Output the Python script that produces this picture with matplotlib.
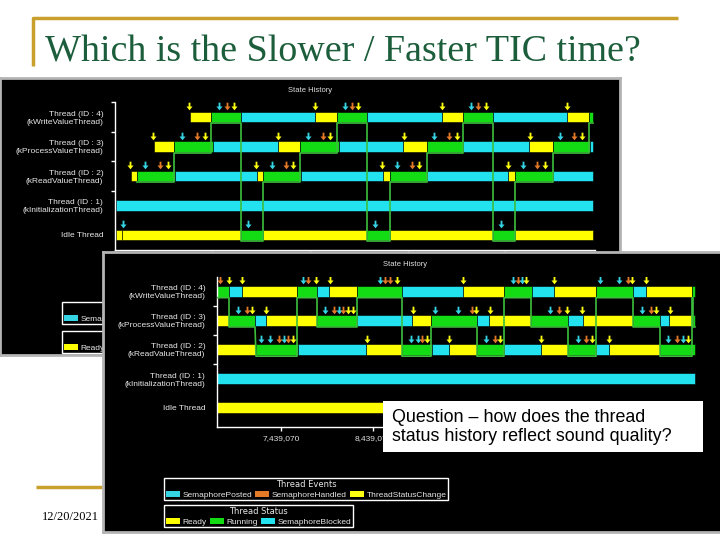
import matplotlib
matplotlib.use("Agg")
import matplotlib.pyplot as plt
import matplotlib.patches as mpatches
from matplotlib.path import Path

W, H = 720, 540

row_labels = [
    "Thread (ID : 4)\n(kWriteValueThread)",
    "Thread (ID : 3)\n(kProcessValueThread)",
    "Thread (ID : 2)\n(kReadValueThread)",
    "Thread (ID : 1)\n(kInitializationThread)",
    "Idle Thread",
]

# status per segment: R = Ready, U = Running, B = SemaphoreBlocked
# back screenshot (slower TIC)
back_t4_edges = [190, 211, 241, 315, 337, 367, 442, 463, 493, 567, 589, 593]
back_t4_states = "RUBRUBRUBRU"
back_t3_edges = [154, 174, 213, 278, 300, 339, 403, 427, 463, 529, 553, 590, 593]
back_t3_states = "RUBRUBRUBRUB"
back_t2_edges = [131, 137, 175, 257, 263, 301, 383, 390, 427, 508, 515, 553, 593]
back_t2_states = "RUBRUBRUBRUB"
back_t1_edges = [116, 593]
back_t1_states = "B"
back_idle_edges = [116, 122.5, 241, 263, 367, 390, 493, 515, 593]
back_idle_states = "RRURURUR"

# events: c = SemaphorePosted, o = SemaphoreHandled, y = ThreadStatusChange
back_t4_events = [(189, 'y'), (219, 'c'), (227, 'o'), (234, 'y'), (315, 'y'), (345, 'c'),
                  (352, 'o'), (358, 'y'), (442, 'y'), (471, 'c'), (478, 'o'), (486, 'y'), (567, 'y')]
back_t3_events = [(153, 'y'), (182, 'c'), (197, 'o'), (205, 'y'), (278, 'y'), (308, 'c'),
                  (323, 'o'), (330, 'y'), (404, 'y'), (434, 'c'), (449, 'o'), (457, 'y'),
                  (530, 'y'), (560, 'c'), (574, 'o'), (582, 'y')]
back_t2_events = [(130, 'y'), (145, 'c'), (160, 'o'), (168, 'y'), (256, 'y'), (272, 'c'),
                  (286, 'o'), (293, 'y'), (382, 'y'), (397, 'c'), (412, 'o'), (419, 'y'),
                  (508, 'y'), (523, 'c'), (537, 'o'), (545, 'y')]
back_idle_events = [(123, 'c'), (248, 'c'), (375, 'c'), (501, 'c')]
back_xticks = [115, 212, 310, 408, 505]

# front screenshot (faster TIC)
front_t4_edges = [217, 229, 242, 297, 317, 329, 357, 402, 463, 504, 532, 554, 596, 633, 646, 692, 695]
front_t4_states = "UBRUBRUBRUBRUBRU"
front_t3_edges = [217, 229, 255, 266, 317, 357, 412, 431, 477, 489, 531, 568, 583, 633, 660, 669, 693, 695]
front_t3_states = "RUBRUBRUBRUBRUBRU"
front_t2_edges = [217, 256, 298, 366, 402, 432, 449, 477, 504, 541, 568, 596, 609, 660, 695]
front_t2_states = "RUBRUBRUBRUBRU"
front_t1_edges = [217, 695]
front_t1_states = "B"
front_idle_edges = [217, 695]
front_idle_states = "R"

front_t4_events = [(220, 'o'), (229, 'y'), (242, 'y'), (303, 'c'), (308, 'o'), (316, 'y'),
                   (330, 'y'), (380, 'c'), (385, 'o'), (390, 'o'), (397, 'y'), (463, 'y'),
                   (513, 'c'), (518, 'o'), (522, 'c'), (526, 'y'), (554, 'y'), (600, 'c'),
                   (619, 'c'), (628, 'o'), (632, 'y'), (646, 'y')]
front_t3_events = [(238, 'c'), (247, 'o'), (252, 'y'), (266, 'y'), (325, 'c'), (334, 'o'),
                   (339, 'c'), (343, 'o'), (348, 'y'), (353, 'y'), (413, 'y'), (435, 'c'),
                   (458, 'c'), (472, 'o'), (476, 'y'), (490, 'y'), (550, 'c'), (559, 'o'),
                   (567, 'y'), (582, 'y'), (642, 'c'), (651, 'o'), (656, 'y'), (670, 'y')]
front_t2_events = [(261, 'c'), (270, 'c'), (279, 'o'), (284, 'c'), (288, 'o'), (293, 'y'),
                   (367, 'y'), (411, 'c'), (418, 'c'), (422, 'o'), (427, 'y'), (449, 'y'),
                   (486, 'c'), (495, 'o'), (500, 'y'), (541, 'y'), (578, 'c'), (586, 'o'),
                   (592, 'y'), (609, 'y'), (668, 'c'), (677, 'o'), (683, 'c'), (688, 'y')]
front_xticks = [281, 373]
front_xticklabels = ["7,439,070", "8,439,070"]

status_colors = {'R': '#ffff00', 'U': '#14dc14', 'B': '#22e2f0'}
status_names = {'R': 'Ready', 'U': 'Running', 'B': 'SemaphoreBlocked'}
event_colors = {'c': '#34d4e4', 'o': '#e47a28', 'y': '#ffff10'}
event_names = {'c': 'SemaphorePosted', 'o': 'SemaphoreHandled', 'y': 'ThreadStatusChange'}
path_color = '#3cc03c'
chart_font = 'Liberation Sans'

arrow_marker = Path([(-0.12, 0.5), (0.12, 0.5), (0.12, 0.0), (0.4, 0.0), (0.0, -0.5),
                     (-0.4, 0.0), (-0.12, 0.0), (-0.12, 0.5)],
                    [Path.MOVETO] + [Path.LINETO] * 6 + [Path.CLOSEPOLY])


def px_rect(x0, y0, x1, y1):
    return [x0 / W, 1 - y1 / H, (x1 - x0) / W, (y1 - y0) / H]


def panel(rect, title_x, title_y):
    p = fig.add_axes(px_rect(*rect))
    p.set_facecolor('black')
    p.set_xticks([])
    p.set_yticks([])
    for s in p.spines.values():
        s.set_color('#b4b4b4')
        s.set_linewidth(2)
    x0, y0, x1, y1 = rect
    p.text((title_x - x0) / (x1 - x0), 1 - (title_y - y0) / (y1 - y0), "State History",
           transform=p.transAxes, ha='center', va='center', color='#e0e0e0',
           fontsize=5.5, family=chart_font)
    return p


def history(ax, edges_list, states_list, events_list, bar_h):
    for row, (edges, states) in enumerate(zip(edges_list, states_list)):
        for st in 'RUB':
            spans = [(a, b - a) for a, b, s in zip(edges[:-1], edges[1:], states) if s == st]
            if spans:
                ax.broken_barh(spans, (row - bar_h / 2, bar_h), facecolors=status_colors[st],
                               edgecolor='black', linewidth=0.4, zorder=2)
    # running path along the bottom of whichever row is running
    runs = sorted((a, b, row) for row, (edges, states) in enumerate(zip(edges_list, states_list))
                  for a, b, s in zip(edges[:-1], edges[1:], states) if s == 'U')
    xs, ys = [], []
    for i, (a, b, row) in enumerate(runs):
        if i + 1 < len(runs):
            b = min(b, runs[i + 1][0])
        y = row + bar_h / 2 + 0.04
        xs += [a, b]
        ys += [y, y]
    ax.plot(xs, ys, color=path_color, lw=1.2, zorder=3)
    for row, events in enumerate(events_list):
        for x, k in events:
            ax.plot([x], [row - 0.36], ls='none', marker=arrow_marker, ms=5.5,
                    color=event_colors[k], mec='none', zorder=4)

    ax.set_facecolor('none')
    for side in ['top', 'right']:
        ax.spines[side].set_visible(False)
    for side in ['left', 'bottom']:
        ax.spines[side].set_color('white')
        ax.spines[side].set_linewidth(1)
    ax.set_yticks(range(len(row_labels)))
    ax.set_yticklabels(row_labels, color='#e8e8e8', fontsize=6, family=chart_font)
    ax.set_yticks([-0.5, 0.5, 1.5, 2.5], minor=True)
    ax.tick_params(axis='y', which='major', length=0, pad=8.5)
    ax.tick_params(axis='y', which='minor', length=3, width=1, color='white')
    ax.tick_params(axis='x', length=3, width=1, color='white', labelcolor='#e0e0e0',
                   labelsize=6, pad=3)


def legends(ax, x, y_events, y_status):
    ev = [mpatches.Patch(facecolor=event_colors[k], edgecolor='none', label=event_names[k])
          for k in 'coy']
    ss = [mpatches.Patch(facecolor=status_colors[k], edgecolor='none', label=status_names[k])
          for k in 'RUB']
    opts = dict(loc='upper left', ncol=3, title_fontsize=6, frameon=True,
                fancybox=False, facecolor='black', edgecolor='white', framealpha=1,
                handlelength=1.7, handleheight=0.8, handletextpad=0.3, columnspacing=0.35,
                borderpad=0.2, labelspacing=0.2, labelcolor='#e8e8e8',
                bbox_transform=fig.transFigure, prop={'family': chart_font, 'size': 6})
    leg1 = ax.legend(handles=ev, title="Thread Events",
                     bbox_to_anchor=(x / W, 1 - y_events / H), **opts)
    leg1.get_title().set_color('#e8e8e8')
    leg1.get_frame().set_linewidth(1)
    ax.add_artist(leg1)
    leg2 = ax.legend(handles=ss, title="Thread Status",
                     bbox_to_anchor=(x / W, 1 - y_status / H), **opts)
    leg2.get_title().set_color('#e8e8e8')
    leg2.get_frame().set_linewidth(1)


fig = plt.figure(figsize=(7.2, 5.4), dpi=100)

# slide background
slide = fig.add_axes([0, 0, 1, 1])
slide.set_xlim(0, W)
slide.set_ylim(H, 0)
slide.axis('off')
gold = '#c9a02c'
slide.plot([33, 33, 678], [66, 18, 18], color=gold, lw=2.5, solid_capstyle='butt')
slide.plot([36, 110], [487, 487], color=gold, lw=2.5, solid_capstyle='butt')
slide.text(45, 62, "Which is the Slower / Faster TIC time?", family='Liberation Serif',
           fontsize=27.4, color='#1c5e3c', va='baseline')
slide.text(70, 517, "12/20/2021", family='Liberation Serif', fontsize=9, color='black',
           ha='center', va='center')

# back screenshot
panel((0, 78, 620, 355), 310, 90)
ax_back = fig.add_axes(px_rect(115, 102, 595, 250))
history(ax_back,
        [back_t4_edges, back_t3_edges, back_t2_edges, back_t1_edges, back_idle_edges],
        [back_t4_states, back_t3_states, back_t2_states, back_t1_states, back_idle_states],
        [back_t4_events, back_t3_events, back_t2_events, [], back_idle_events], 0.36)
ax_back.set_xlim(115, 595)
ax_back.set_ylim(4.51, -0.508)
ax_back.set_xticks(back_xticks)
ax_back.set_xticklabels([])
legends(ax_back, 58, 298, 327)

# front screenshot
panel((103, 252, 722, 532), 405, 264)
ax_front = fig.add_axes(px_rect(217, 277, 697, 427))
history(ax_front,
        [front_t4_edges, front_t3_edges, front_t2_edges, front_t1_edges, front_idle_edges],
        [front_t4_states, front_t3_states, front_t2_states, front_t1_states, front_idle_states],
        [front_t4_events, front_t3_events, front_t2_events, [], []], 0.376)
ax_front.set_xlim(217, 697)
ax_front.set_ylim(4.65, -0.479)
ax_front.set_xticks(front_xticks)
ax_front.set_xticklabels(front_xticklabels, family=chart_font)
legends(ax_front, 160, 474, 501)

# question box on top
top = fig.add_axes([0, 0, 1, 1])
top.set_xlim(0, W)
top.set_ylim(H, 0)
top.axis('off')
top.add_patch(mpatches.Rectangle((383, 401), 320, 51, facecolor='white', edgecolor='none'))
top.text(392, 427, "Question \u2013 how does the thread\nstatus history reflect sound quality?",
         family='Liberation Sans', fontsize=12.9, color='black', va='center', ha='left',
         linespacing=1.1)

fig.savefig("out.png", dpi=100)
